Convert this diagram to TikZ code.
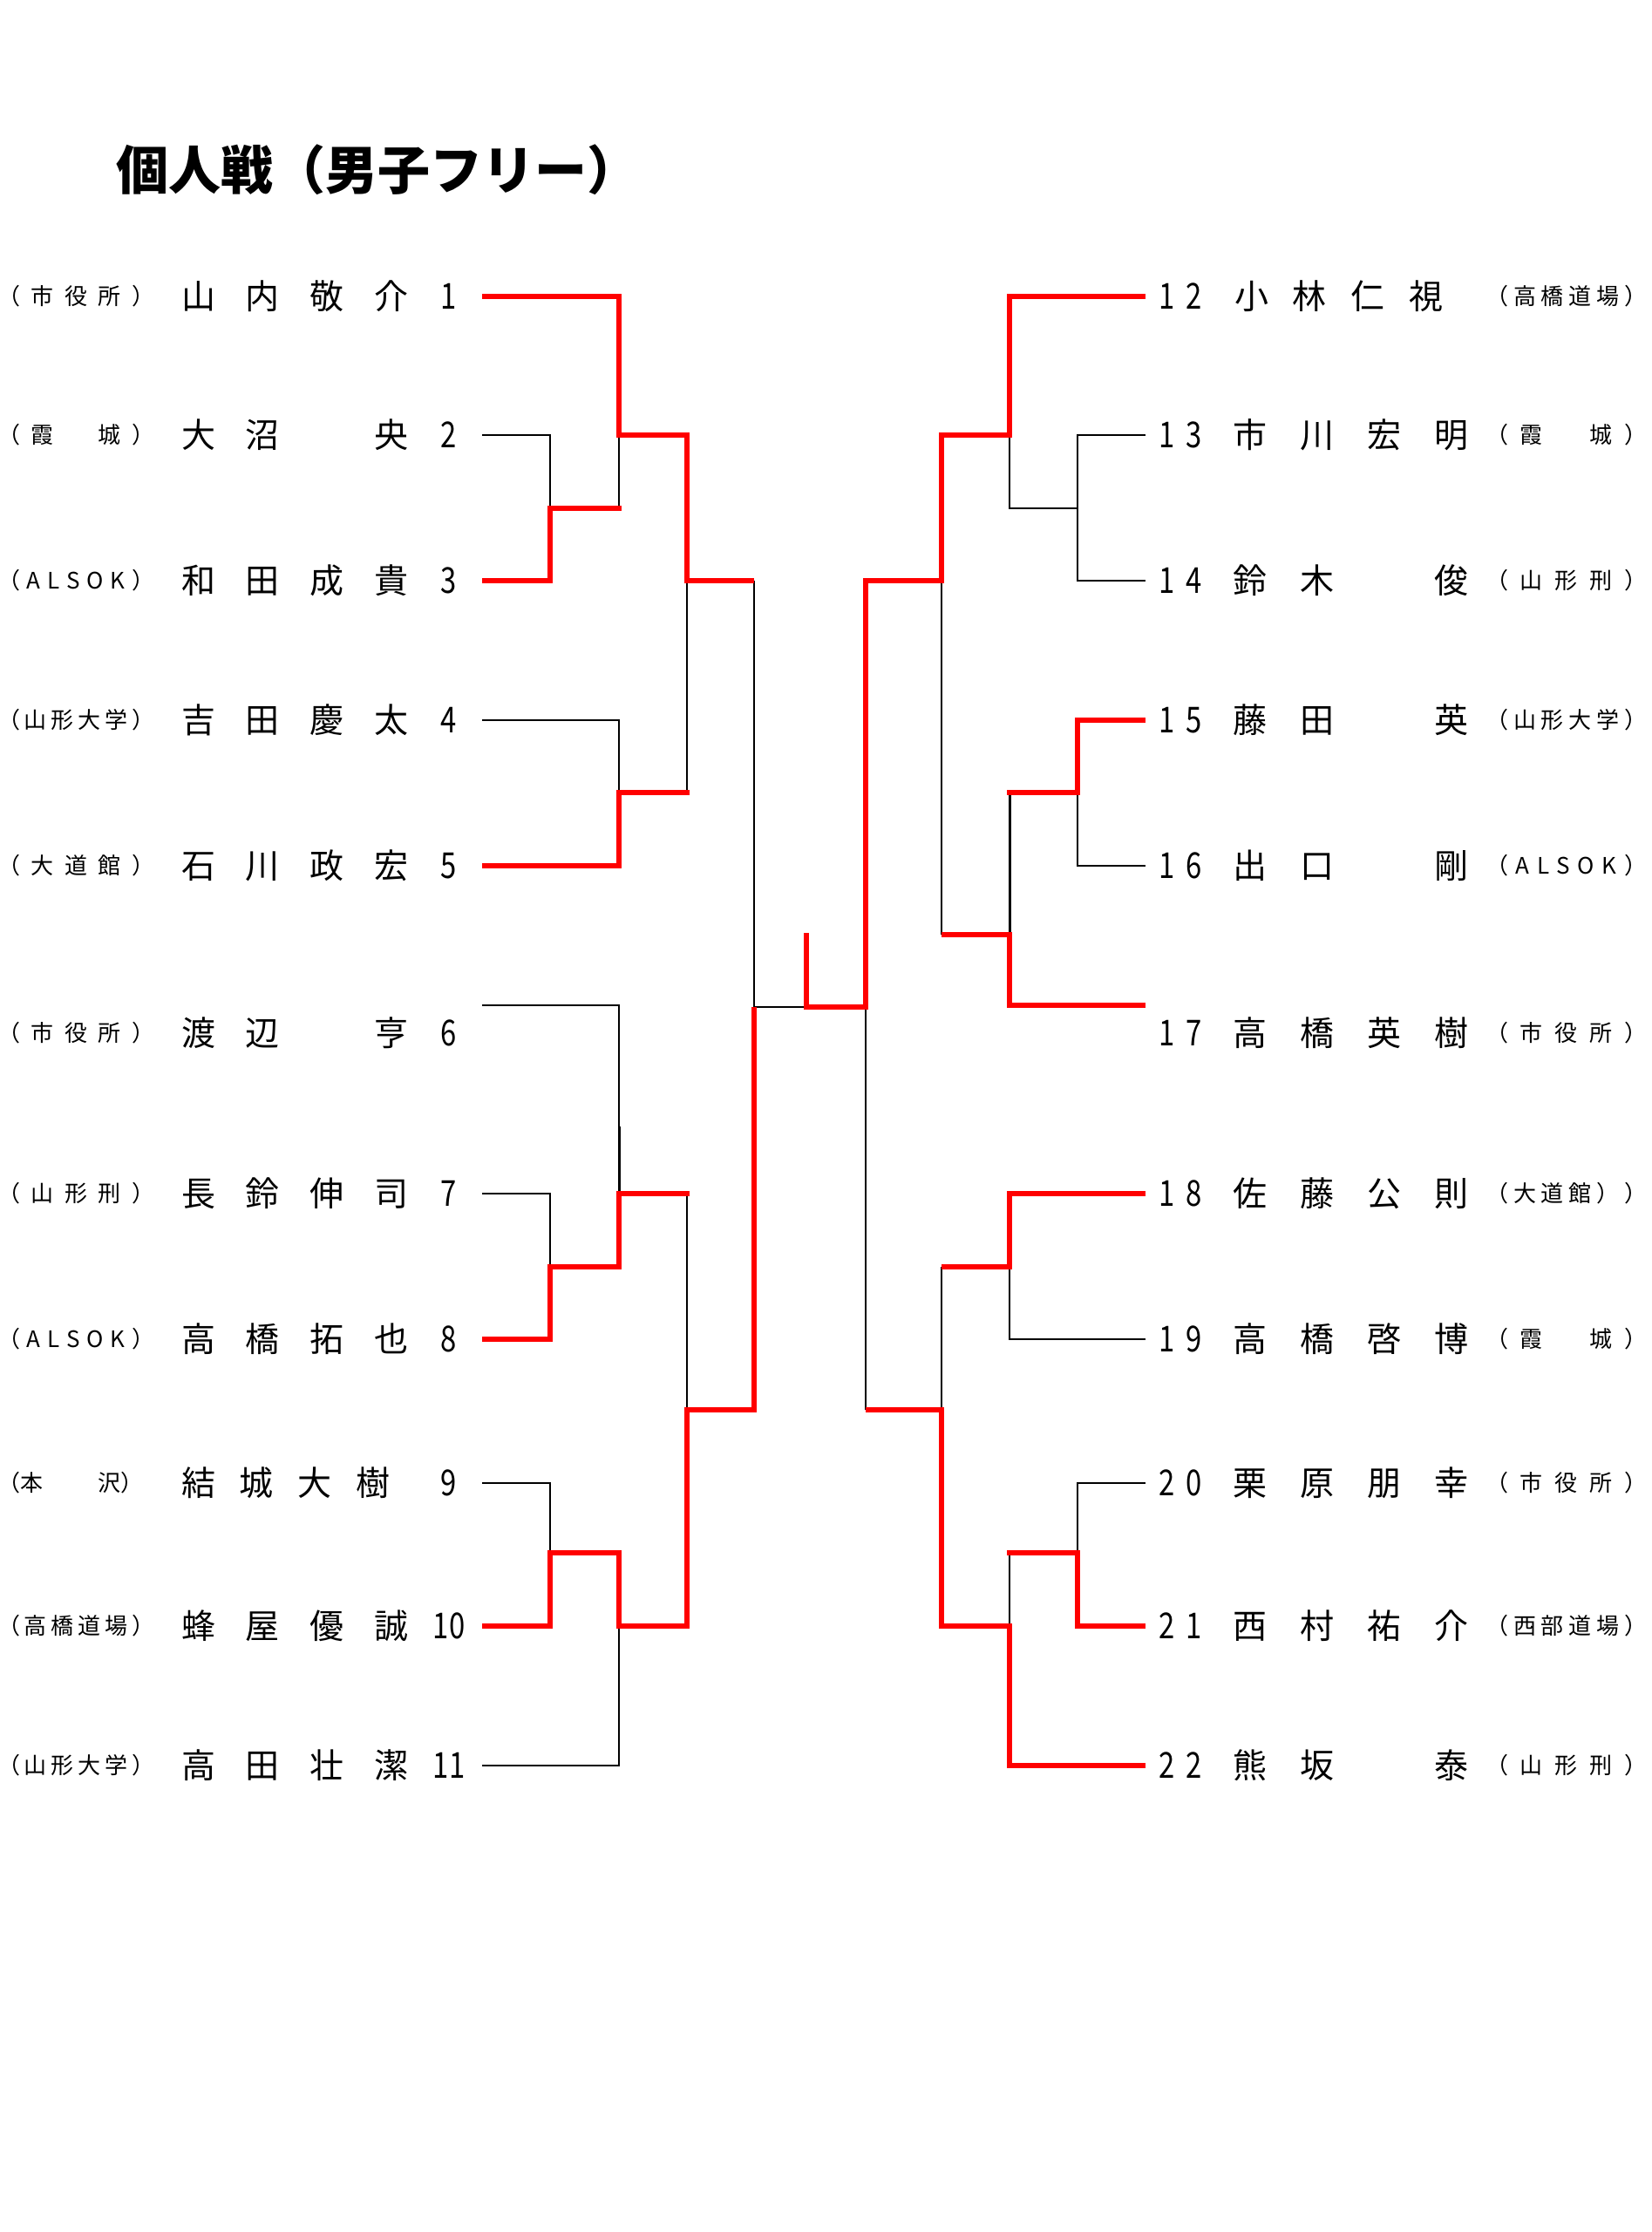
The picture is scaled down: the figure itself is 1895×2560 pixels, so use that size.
\documentclass[tikz,border=0pt]{standalone}
\usepackage{fontspec}
\setmainfont{Noto Sans CJK JP}
\newfontfamily\digitfont{Noto Sans CJK JP}[FakeStretch=0.8]
\newcommand{\distr}[2]{\makebox[#1][s]{#2}}

\begin{document}
\begin{tikzpicture}[x=1pt,y=-1pt,
  win/.style={draw=red,line width=6pt},
  lose/.style={draw=black,line width=2pt},
  aff/.style={font=\fontsize{26}{26}\selectfont,inner sep=0pt,anchor=west},
  pname/.style={font=\fontsize{39}{39}\selectfont,inner sep=0pt,anchor=west},
  num/.style={font=\digitfont\fontsize{41}{41}\selectfont,inner sep=0pt}]
\useasboundingbox (0,0) rectangle (1895,2560);
\node[inner sep=0pt,anchor=west,font=\fontsize{60}{60}\selectfont\bfseries] (title) at (133,195) {個人戦（男子フリー）};

% left side
\node[aff] (c1) at (-3,340) {\distr{180pt}{（ 市 役 所 ）}};
\node[pname] (m1) at (208,340) {\distr{260pt}{山 内 敬 介}};
\node[num] (k1) at (515,340) {1};
\node[aff] (c2) at (-3,499) {\distr{180pt}{（ 霞 　 城 ）}};
\node[pname] (m2) at (208,499) {\distr{260pt}{大 沼 　 央}};
\node[num] (k2) at (515,499) {2};
\node[aff] (c3) at (-3,666) {\distr{180pt}{（ A L S O K ）}};
\node[pname] (m3) at (208,666) {\distr{260pt}{和 田 成 貴}};
\node[num] (k3) at (515,666) {3};
\node[aff] (c4) at (-3,826) {\distr{180pt}{（ 山 形 大 学 ）}};
\node[pname] (m4) at (208,826) {\distr{260pt}{吉 田 慶 太}};
\node[num] (k4) at (515,826) {4};
\node[aff] (c5) at (-3,993) {\distr{180pt}{（ 大 道 館 ）}};
\node[pname] (m5) at (208,993) {\distr{260pt}{石 川 政 宏}};
\node[num] (k5) at (515,993) {5};
\node[aff] (c6) at (-3,1185) {\distr{180pt}{（ 市 役 所 ）}};
\node[pname] (m6) at (208,1185) {\distr{260pt}{渡 辺 　 亨}};
\node[num] (k6) at (515,1185) {6};
\node[aff] (c7) at (-3,1369) {\distr{180pt}{（ 山 形 刑 ）}};
\node[pname] (m7) at (208,1369) {\distr{260pt}{長 鈴 伸 司}};
\node[num] (k7) at (515,1369) {7};
\node[aff] (c8) at (-3,1536) {\distr{180pt}{（ A L S O K ）}};
\node[pname] (m8) at (208,1536) {\distr{260pt}{高 橋 拓 也}};
\node[num] (k8) at (515,1536) {8};
\node[aff] (c9) at (-3,1701) {\distr{162pt}{（本 　 　 沢）}};
\node[pname] (m9) at (208,1701) {\distr{239pt}{結 城 大 樹}};
\node[num] (k9) at (515,1701) {9};
\node[aff] (c10) at (-3,1865) {\distr{180pt}{（ 高 橋 道 場 ）}};
\node[pname] (m10) at (208,1865) {\distr{260pt}{蜂 屋 優 誠}};
\node[num] (k10) at (515,1865) {10};
\node[aff] (c11) at (-3,2025) {\distr{180pt}{（ 山 形 大 学 ）}};
\node[pname] (m11) at (208,2025) {\distr{260pt}{高 田 壮 潔}};
\node[num] (k11) at (515,2025) {11};

% right side
\node[num] (k12) at (1354,340) {\distr{50pt}{1 2}};
\node[pname] (m12) at (1416,340) {\distr{239pt}{小 林 仁 視}};
\node[aff] (c12) at (1704,340) {\distr{185pt}{（ 高 橋 道 場 ）}};
\node[num] (k13) at (1354,499) {\distr{50pt}{1 3}};
\node[pname] (m13) at (1414,499) {\distr{270pt}{市 川 宏 明}};
\node[aff] (c13) at (1704,499) {\distr{185pt}{（ 霞 　 城 ）}};
\node[num] (k14) at (1354,666) {\distr{50pt}{1 4}};
\node[pname] (m14) at (1414,666) {\distr{270pt}{鈴 木 　 俊}};
\node[aff] (c14) at (1704,666) {\distr{185pt}{（ 山 形 刑 ）}};
\node[num] (k15) at (1354,826) {\distr{50pt}{1 5}};
\node[pname] (m15) at (1414,826) {\distr{270pt}{藤 田 　 英}};
\node[aff] (c15) at (1704,826) {\distr{185pt}{（ 山 形 大 学 ）}};
\node[num] (k16) at (1354,993) {\distr{50pt}{1 6}};
\node[pname] (m16) at (1414,993) {\distr{270pt}{出 口 　 剛}};
\node[aff] (c16) at (1704,993) {\distr{185pt}{（ A L S O K ）}};
\node[num] (k17) at (1354,1185) {\distr{50pt}{1 7}};
\node[pname] (m17) at (1414,1185) {\distr{270pt}{高 橋 英 樹}};
\node[aff] (c17) at (1704,1185) {\distr{185pt}{（ 市 役 所 ）}};
\node[num] (k18) at (1354,1369) {\distr{50pt}{1 8}};
\node[pname] (m18) at (1414,1369) {\distr{270pt}{佐 藤 公 則}};
\node[aff] (c18) at (1704,1369) {\distr{185pt}{（ 大 道 館 ） ）}};
\node[num] (k19) at (1354,1536) {\distr{50pt}{1 9}};
\node[pname] (m19) at (1414,1536) {\distr{270pt}{高 橋 啓 博}};
\node[aff] (c19) at (1704,1536) {\distr{185pt}{（ 霞 　 城 ）}};
\node[num] (k20) at (1354,1701) {\distr{50pt}{2 0}};
\node[pname] (m20) at (1414,1701) {\distr{270pt}{栗 原 朋 幸}};
\node[aff] (c20) at (1704,1701) {\distr{185pt}{（ 市 役 所 ）}};
\node[num] (k21) at (1354,1865) {\distr{50pt}{2 1}};
\node[pname] (m21) at (1414,1865) {\distr{270pt}{西 村 祐 介}};
\node[aff] (c21) at (1704,1865) {\distr{185pt}{（ 西 部 道 場 ）}};
\node[num] (k22) at (1354,2025) {\distr{50pt}{2 2}};
\node[pname] (m22) at (1414,2025) {\distr{270pt}{熊 坂 　 泰}};
\node[aff] (c22) at (1704,2025) {\distr{185pt}{（ 山 形 刑 ）}};

% line ends
\coordinate (a1) at (553,340);   \coordinate (b12) at (1314,340);
\coordinate (a2) at (553,499);   \coordinate (b13) at (1314,499);
\coordinate (a3) at (553,666);   \coordinate (b14) at (1314,666);
\coordinate (a4) at (553,826);   \coordinate (b15) at (1314,826);
\coordinate (a5) at (553,993);   \coordinate (b16) at (1314,993);
\coordinate (a6) at (553,1153);  \coordinate (b17) at (1314,1153);
\coordinate (a7) at (553,1369);  \coordinate (b18) at (1314,1369);
\coordinate (a8) at (553,1536);  \coordinate (b19) at (1314,1536);
\coordinate (a9) at (553,1701);  \coordinate (b20) at (1314,1701);
\coordinate (a10) at (553,1865); \coordinate (b21) at (1314,1865);
\coordinate (a11) at (553,2025); \coordinate (b22) at (1314,2025);

% lost bouts
\draw[lose] (a2) -- (631,499) -- (631,583);
\draw[lose] (710,499) -- (710,583);
\draw[lose] (a4) -- (710,826) -- (710,909);
\draw[lose] (788,666) -- (788,909);
\draw[lose] (865,666) -- (865,1155) -- (925,1155);
\draw[lose] (a6) -- (710,1153) -- (710,1369);
\draw[lose,line width=3pt] (710,1292) -- (710,1369);
\draw[lose] (a7) -- (631,1369) -- (631,1453);
\draw[lose] (788,1369) -- (788,1617);
\draw[lose] (a9) -- (631,1701) -- (631,1781);
\draw[lose] (a11) -- (710,2025) -- (710,1865);
\draw[lose] (b13) -- (1236,499) -- (1236,666) -- (b14);
\draw[lose] (1236,583) -- (1158,583) -- (1158,499);
\draw[lose] (b16) -- (1236,993) -- (1236,909);
\draw[lose,line width=3pt] (1158,909) -- (1158,1072);
\draw[lose] (1080,666) -- (1080,1072);
\draw[lose] (993,1155) -- (993,1617);
\draw[lose] (b19) -- (1158,1536) -- (1158,1453);
\draw[lose] (1080,1453) -- (1080,1617);
\draw[lose] (b20) -- (1236,1701) -- (1236,1781);
\draw[lose] (1158,1781) -- (1158,1865);

% won bouts
\draw[win] (a1) -- (710,340) -- (710,499) -- (788,499) -- (788,666) -- (865,666);
\draw[win] (a3) -- (631,666) -- (631,583) -- (713,583);
\draw[win] (a5) -- (710,993) -- (710,909) -- (791,909);
\draw[win] (a8) -- (631,1536) -- (631,1453) -- (710,1453) -- (710,1369) -- (791,1369);
\draw[win] (a10) -- (631,1865) -- (631,1781) -- (710,1781) -- (710,1865) -- (788,1865) -- (788,1617) -- (865,1617) -- (865,1155);
\draw[win] (925,1070) -- (925,1155) -- (993,1155) -- (993,666) -- (1080,666) -- (1080,499) -- (1158,499) -- (1158,340) -- (b12);
\draw[win] (b15) -- (1236,826) -- (1236,909) -- (1155,909);
\draw[win] (b17) -- (1158,1153) -- (1158,1072) -- (1080,1072);
\draw[win] (b18) -- (1158,1369) -- (1158,1453) -- (1080,1453);
\draw[win] (b21) -- (1236,1865) -- (1236,1781) -- (1155,1781);
\draw[win] (b22) -- (1158,2025) -- (1158,1865) -- (1080,1865) -- (1080,1617) -- (993,1617);
\end{tikzpicture}
\end{document}
